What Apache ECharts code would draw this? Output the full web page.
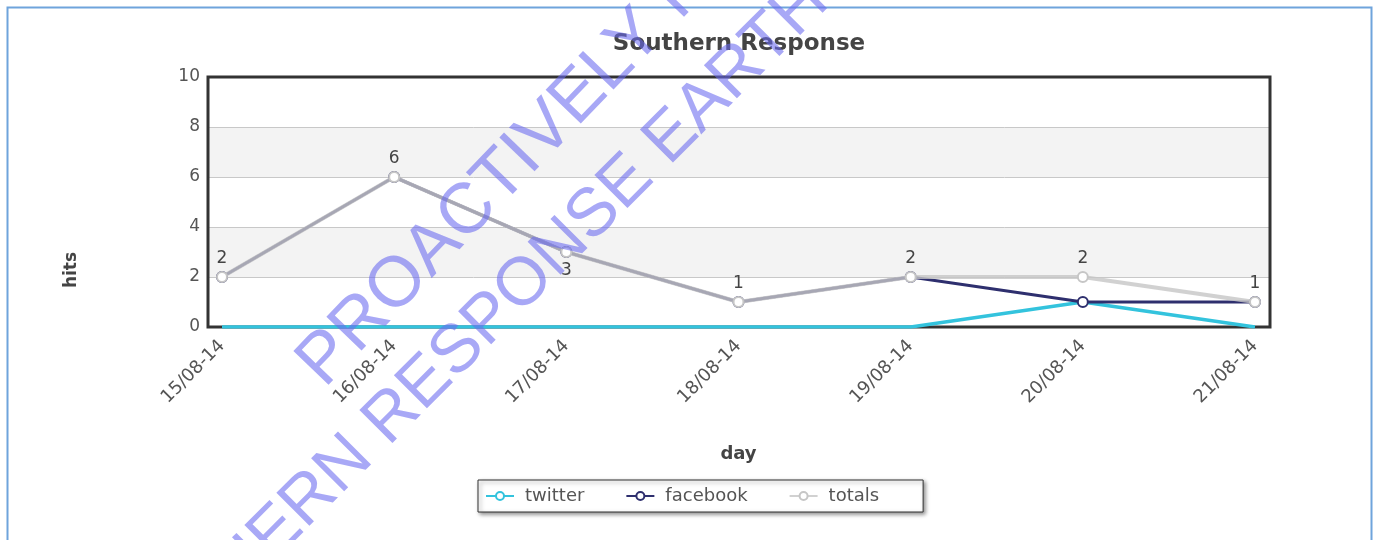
<!DOCTYPE html>
<html>
<head>
<meta charset="utf-8">
<script src="https://cdn.jsdelivr.net/npm/echarts@6/dist/echarts.min.js"></script>
<style>
  html, body { margin: 0; padding: 0; background: #fff; }
  #main { width: 1378px; height: 540px; }
</style>
</head>
<body>
<div id="main"></div>
<script>
var days = ['15/08-14', '16/08-14', '17/08-14', '18/08-14', '19/08-14', '20/08-14', '21/08-14'];
var twitter = [0, 0, 0, 0, 0, 1, 0];
var facebook = [2, 6, 3, 1, 2, 1, 1];
var totals = [2, 6, 3, 1, 2, 2, 1];
var yTicks = [0, 2, 4, 6, 8, 10];

var myChart = echarts.init(document.getElementById('main'));
var font = 'DejaVu Sans';
var markFont = 'Liberation Sans';
var markAngle = 46 * Math.PI / 180;
var markFill = 'rgba(105,105,240,0.58)';

var option = {
    textStyle: { fontFamily: font },
    title: {
        text: 'Southern Response',
        left: 734,
        textAlign: 'center',
        top: 28,
        textStyle: { fontSize: 23, fontWeight: 'bold', color: '#444', fontFamily: font }
    },
    legend: {
        data: ['twitter', 'facebook', 'totals'],
        left: 478,
        top: 480,
        padding: [7, 44, 7, 7],
        itemWidth: 28,
        itemHeight: 10,
        itemGap: 41,
        borderColor: '#333',
        borderWidth: 1,
        backgroundColor: '#fff',
        shadowColor: 'rgba(0,0,0,0.45)',
        shadowBlur: 4,
        shadowOffsetX: 2,
        shadowOffsetY: 2,
        textStyle: { fontSize: 18, color: '#555', padding: [0, 0, 0, 6], fontFamily: font }
    },
    grid: [
        { left: 208, width: 1062, top: 77, height: 250, backgroundColor: '#fff', show: true, borderWidth: 0 },
        { left: 222, width: 1033, top: 77, height: 250 }
    ],
    xAxis: [
        { gridIndex: 0, type: 'category', data: days, show: false },
        {
            gridIndex: 1,
            type: 'category',
            boundaryGap: false,
            data: days,
            name: 'day',
            nameLocation: 'middle',
            nameGap: 118,
            nameTextStyle: { fontSize: 18, fontWeight: 'bold', color: '#444', fontFamily: font },
            axisLine: { show: false },
            axisTick: { show: false },
            axisLabel: { rotate: 45, fontSize: 18, color: '#555', margin: 16, fontFamily: font }
        }
    ],
    yAxis: [
        {
            gridIndex: 0,
            type: 'value',
            min: yTicks[0],
            max: yTicks[yTicks.length - 1],
            interval: 2,
            name: 'hits',
            nameLocation: 'middle',
            nameRotate: 90,
            nameGap: 128,
            nameTextStyle: { fontSize: 17, fontWeight: 'bold', color: '#444', padding: [0, 136, 0, 0], fontFamily: font },
            axisLine: { show: false },
            axisTick: { show: false },
            axisLabel: { fontSize: 17, color: '#555', margin: 8, fontFamily: font },
            splitLine: { lineStyle: { color: '#c8c8c8', width: 1 } },
            splitArea: { show: true, areaStyle: { color: ['#ffffff', '#f3f3f3'] } }
        },
        { gridIndex: 1, type: 'value', min: 0, max: 10, show: false }
    ],
    series: [
        {
            name: 'twitter',
            type: 'line',
            xAxisIndex: 1,
            yAxisIndex: 1,
            data: twitter,
            color: '#33c3dd',
            symbol: 'emptyCircle',
            symbolSize: 9,
            showSymbol: false,
            lineStyle: { width: 3.5 },
            z: 3
        },
        {
            name: 'facebook',
            type: 'line',
            xAxisIndex: 1,
            yAxisIndex: 1,
            data: facebook,
            color: '#2e2f6e',
            symbol: 'emptyCircle',
            symbolSize: 10,
            lineStyle: { width: 3 },
            z: 4
        },
        {
            name: 'totals',
            type: 'line',
            xAxisIndex: 1,
            yAxisIndex: 1,
            data: totals.map(function (v, i) {
                return i === 2 ? { value: v, label: { position: 'bottom' } } : v;
            }),
            color: '#c6c6c6',
            symbol: 'emptyCircle',
            symbolSize: 10,
            lineStyle: { width: 4, opacity: 0.8 },
            label: { show: true, position: 'top', fontSize: 17, color: '#444', distance: 4, fontFamily: font },
            z: 5
        }
    ],
    graphic: [
        {
            // plot frame
            type: 'rect',
            shape: { x: 208, y: 77, width: 1062, height: 250 },
            style: { fill: 'none', stroke: '#333', lineWidth: 3 },
            silent: true,
            z: 1
        },
        {
            type: 'rect',
            shape: { x: 7.5, y: 7.5, width: 1364, height: 560 },
            style: { fill: 'none', stroke: '#6fa4dc', lineWidth: 2 },
            silent: true,
            z: 100
        },
        {
            type: 'text',
            x: 336,
            y: 400,
            rotation: markAngle,
            style: { text: 'PROACTIVELY RELEASED', fontSize: 71, fontFamily: markFont, fill: markFill, verticalAlign: 'bottom' },
            silent: true,
            z: 100
        },
        {
            type: 'text',
            x: 116,
            y: 741,
            rotation: 45 * Math.PI / 180,
            style: { text: 'SOUTHERN RESPONSE EARTHQUAKE', fontSize: 68, fontFamily: markFont, fill: markFill, verticalAlign: 'bottom' },
            silent: true,
            z: 100
        }
    ]
};

myChart.setOption(option);

window.onresize = function () {
    myChart.resize();
};
</script>
</body>
</html>
